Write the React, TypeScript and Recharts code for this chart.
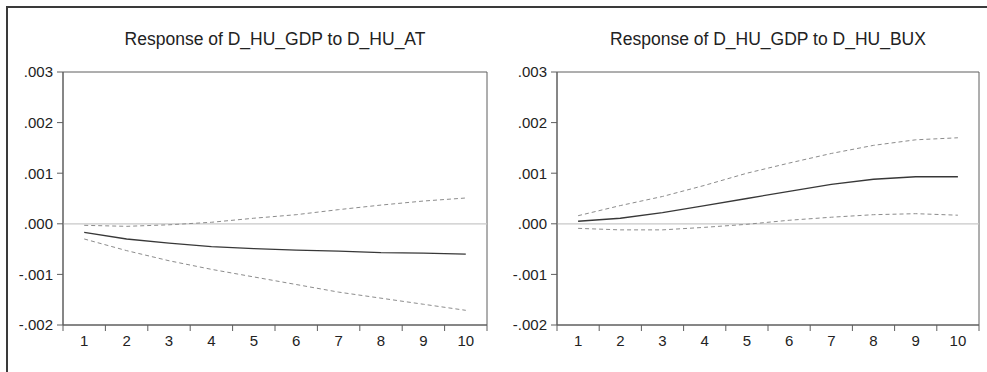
import React from 'react';
import { LineChart, Line, XAxis, YAxis, ReferenceLine, ReferenceArea } from 'recharts';

// impulse-response periods
const periods = [1, 2, 3, 4, 5, 6, 7, 8, 9, 10];

// response of D_HU_GDP to D_HU_AT
const atResponse = [-0.00017, -0.0003, -0.00038, -0.00045, -0.00049, -0.00052, -0.00054, -0.00057, -0.00058, -0.0006];
const atUpper = [-0.00003, -0.00005, -0.00002, 0.00003, 0.00011, 0.00018, 0.00028, 0.00037, 0.00045, 0.00051];
const atLower = [-0.0003, -0.00053, -0.00073, -0.0009, -0.00105, -0.0012, -0.00135, -0.00147, -0.00159, -0.00171];

// response of D_HU_GDP to D_HU_BUX
const buxResponse = [0.00005, 0.00011, 0.00022, 0.00036, 0.0005, 0.00064, 0.00078, 0.00088, 0.00093, 0.00093];
const buxUpper = [0.00016, 0.00036, 0.00054, 0.00076, 0.001, 0.0012, 0.00139, 0.00155, 0.00166, 0.0017];
const buxLower = [-0.00009, -0.00012, -0.00012, -0.00007, -0.00001, 0.00007, 0.00013, 0.00018, 0.0002, 0.00017];

const yTicks = [-0.002, -0.001, 0, 0.001, 0.002, 0.003];

const AXIS = '#5e5e5e';
const FONT = '"Liberation Sans", Arial, sans-serif';

const fmt = (v: number) => v.toFixed(3).replace('0.', '.');

const makeTick = (bw: number) => (props: any) => {
  const { x, y, payload } = props;
  const left = x - bw / 2;
  return (
    <g>
      <line x1={left} y1={y} x2={left} y2={y + 6} stroke={AXIS} />
      {payload.value === 10 && <line x1={x + bw / 2} y1={y} x2={x + bw / 2} y2={y + 6} stroke={AXIS} />}
      <text x={x} y={y + 21} textAnchor="middle" fontSize={15} fill="#222" fontFamily={FONT}>
        {payload.value}
      </text>
    </g>
  );
};

type PanelProps = {
  title: string;
  resp: number[];
  upper: number[];
  lower: number[];
  left: number;
  width: number;
  yWidth: number;
  marginRight: number;
};

const Panel = ({ title, resp, upper, lower, left, width, yWidth, marginRight }: PanelProps) => {
  const data = periods.map((p, i) => ({ p, resp: resp[i], upper: upper[i], lower: lower[i] }));
  const plotW = width - yWidth - marginRight;
  return (
    <div style={{ position: 'absolute', left, top: 0, width, height: 372 }}>
      <div
        style={{
          position: 'absolute',
          left: yWidth,
          width: plotW,
          top: 28,
          height: 22,
          lineHeight: '22px',
          textAlign: 'center',
          fontSize: 17.5,
          color: '#222',
          fontFamily: FONT,
        }}
      >
        {title}
      </div>
      <LineChart width={width} height={372} data={data} margin={{ top: 72, right: marginRight, bottom: 17, left: 0 }}>
        <XAxis
          dataKey="p"
          type="number"
          domain={[0.5, 10.5]}
          ticks={periods}
          allowDataOverflow
          height={30}
          tickLine={false}
          tickSize={0}
          tickMargin={0}
          axisLine={{ stroke: AXIS }}
          tick={makeTick(plotW / 10)}
        />
        <YAxis
          type="number"
          domain={[-0.002, 0.003]}
          ticks={yTicks}
          width={yWidth}
          tickFormatter={fmt}
          tickSize={6}
          tickMargin={4}
          tickLine={{ stroke: AXIS }}
          axisLine={{ stroke: AXIS }}
          tick={{ fontSize: 15, fill: '#222', fontFamily: FONT }}
        />
        <ReferenceArea x1={0.5} x2={10.5} y1={-0.002} y2={0.003} fill="none" stroke={AXIS} strokeWidth={1} ifOverflow="visible" />
        <ReferenceLine y={0} stroke="#c8c8c8" strokeWidth={1.2} />
        <Line type="linear" dataKey="upper" stroke="#8c8c8c" strokeWidth={1} strokeDasharray="4 3" dot={false} isAnimationActive={false} />
        <Line type="linear" dataKey="lower" stroke="#8c8c8c" strokeWidth={1} strokeDasharray="4 3" dot={false} isAnimationActive={false} />
        <Line type="linear" dataKey="resp" stroke="#383838" strokeWidth={1.3} dot={false} isAnimationActive={false} />
      </LineChart>
    </div>
  );
};

export default function App() {
  return (
    <div style={{ position: 'absolute', left: 0, top: 0, width: 987, height: 372, background: '#fff', overflow: 'hidden' }}>
      <div
        style={{
          position: 'absolute',
          left: 6,
          top: 6,
          right: 0,
          bottom: 0,
          borderTop: '2px solid #3a3a3a',
          borderLeft: '2px solid #3a3a3a',
        }}
      />
      <Panel
        title="Response of D_HU_GDP to D_HU_AT"
        resp={atResponse}
        upper={atUpper}
        lower={atLower}
        left={0}
        width={493}
        yWidth={63}
        marginRight={6}
      />
      <Panel
        title="Response of D_HU_GDP to D_HU_BUX"
        resp={buxResponse}
        upper={buxUpper}
        lower={buxLower}
        left={493}
        width={494}
        yWidth={64}
        marginRight={8}
      />
    </div>
  );
}
